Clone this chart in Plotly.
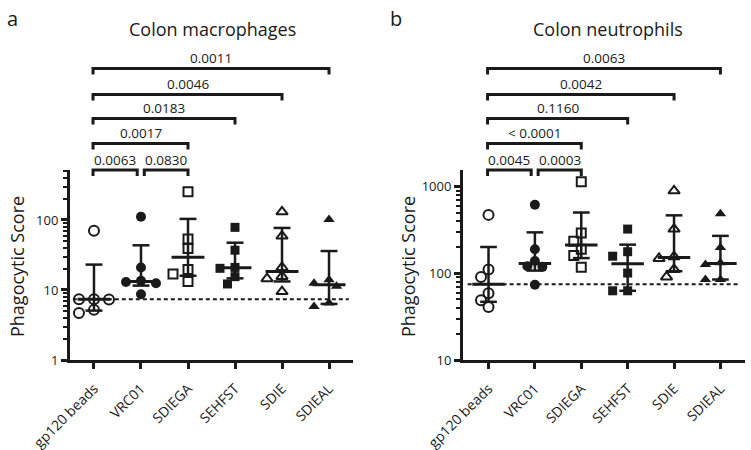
import math
import plotly.graph_objects as go

# ---------------- data ----------------
categories = ["gp120 beads", "VRC01", "SDIEGA", "SEHFST", "SDIE", "SDIEAL"]
symbols = ["circle-open", "circle", "square-open", "square", "triangle-up-open", "triangle-up"]

mac_gp120 = [70, 7.4, 7.4, 7.3, 5.2, 4.7]
mac_vrc01 = [111, 21, 13.5, 13.0, 12.5, 8.7]
mac_sdiega = [254, 53.5, 39, 19.7, 16.9, 13.2]
mac_sehfst = [78.5, 37, 21, 20.4, 15.5, 12.2]
mac_sdie = [131, 59, 21, 15.6, 14.5, 9.5]
mac_sdieal = [102, 14, 12.5, 11.3, 6.5, 5.8]

neu_gp120 = [474, 111, 91, 59, 49, 41]
neu_vrc01 = [621, 190, 139, 121, 119, 74]
neu_sdiega = [1143, 292, 235, 190, 161, 118]
neu_sehfst = [325, 178, 158, 101, 63, 63]
neu_sdie = [898, 325, 156, 149, 111, 91]
neu_sdieal = [488, 199, 133, 127, 85, 85]

pairs = [(0, 1), (1, 2), (0, 2), (0, 3), (0, 4), (0, 5)]
mac_p = ["0.0063", "0.0830", "0.0017", "0.0183", "0.0046", "0.0011"]
neu_p = ["0.0045", "0.0003", "< 0.0001", "0.1160", "0.0042", "0.0063"]

mac_ticks = [1, 10, 100]
neu_ticks = [10, 100, 1000]

# ---------------- layout constants ----------------
W, H = 751, 450
INK = "#1a1a1a"
FONT = "Open Sans"

panels = [
    dict(groups=[mac_gp120, mac_vrc01, mac_sdiega, mac_sehfst, mac_sdie, mac_sdieal],
         pvals=mac_p, ticks=mac_ticks, px=(70, 353), yr=(0, 2.714), xr=(-0.51, 5.51),
         title="Colon macrophages", tx=212, letter="a", lx=12, ytx=17),
    dict(groups=[neu_gp120, neu_vrc01, neu_sdiega, neu_sehfst, neu_sdie, neu_sdieal],
         pvals=neu_p, ticks=neu_ticks, px=(463, 745), yr=(1, 3.194), xr=(-0.55, 5.53),
         title="Colon neutrophils", tx=608, letter="b", lx=396, ytx=408),
]
PY_TOP, PY_BOT = 170, 360


def quant(vals, p):
    s = sorted(vals)
    n = len(s)
    pos = p * (n + 1)
    lo = int(math.floor(pos))
    frac = pos - lo
    lo = max(1, min(n, lo))
    hi = max(1, min(n, lo + 1))
    return s[lo - 1] + frac * (s[hi - 1] - s[lo - 1])


def swarm(vals, ppx, ppd, step=7.5, thr=9.0):
    order = sorted(range(len(vals)), key=lambda i: -vals[i])
    placed = []
    offs = [0.0] * len(vals)
    for i in order:
        y = math.log10(vals[i]) * ppd
        for k in [0, -1, 1, -2, 2, -3, 3]:
            x = k * step
            if all(math.hypot(x - px, y - py) >= thr - 1e-6 for px, py in placed):
                break
        placed.append((x, y))
        offs[i] = x / ppx
    return offs


fig = go.Figure()
annotations = []
shapes = []

for pi, P in enumerate(panels):
    xa = "x" if pi == 0 else "x2"
    ya = "y" if pi == 0 else "y2"
    wpx = P["px"][1] - P["px"][0]
    ppx = wpx / (P["xr"][1] - P["xr"][0])
    ppd = (PY_BOT - PY_TOP) / (P["yr"][1] - P["yr"][0])

    # error bars (median + interquartile range)
    lx, ly = [], []
    mx, my = [], []
    for gi, vals in enumerate(P["groups"]):
        q1, med, q3 = quant(vals, 0.25), quant(vals, 0.5), quant(vals, 0.75)
        cw = 0.18
        mw = 0.35
        lx += [gi, gi, None, gi - cw, gi + cw, None, gi - cw, gi + cw, None]
        ly += [q1, q3, None, q3, q3, None, q1, q1, None]
        mx += [gi - mw, gi + mw, None]
        my += [med, med, None]
    fig.add_trace(go.Scatter(x=lx, y=ly, mode="lines", xaxis=xa, yaxis=ya,
                             line=dict(color=INK, width=2.5), hoverinfo="skip", showlegend=False))
    fig.add_trace(go.Scatter(x=mx, y=my, mode="lines", xaxis=xa, yaxis=ya,
                             line=dict(color=INK, width=3), hoverinfo="skip", showlegend=False))

    # dashed reference line at gp120 median
    ref = quant(P["groups"][0], 0.5)
    fig.add_trace(go.Scatter(x=[-0.45, 5.42], y=[ref, ref], mode="lines", xaxis=xa, yaxis=ya,
                             line=dict(color=INK, width=2, dash="4px,3px"),
                             hoverinfo="skip", showlegend=False))

    # points
    for gi, vals in enumerate(P["groups"]):
        offs = swarm(vals, ppx, ppd)
        sym = symbols[gi]
        is_open = sym.endswith("open")
        size = 10 if "circle" in sym else (9 if "square" in sym else 10)
        fig.add_trace(go.Scatter(
            x=[gi + o for o in offs], y=vals, mode="markers", xaxis=xa, yaxis=ya,
            marker=dict(symbol=sym, size=size, color=INK,
                        line=dict(color=INK, width=2 if is_open else 0)),
            showlegend=False, name=categories[gi]))

    # brackets
    levels_px = [170, 170, 143.5, 118.5, 94.5, 68.5]
    for k, ((a, b), lab) in enumerate(zip(pairs, P["pvals"])):
        x0, x1 = a - 0.02, b
        if k == 0:
            x1 = b - 0.08
        elif k == 1:
            x0 = a + 0.07
        yb = (H - levels_px[k]) / H
        yt = (H - (levels_px[k] + 6)) / H
        shapes.append(dict(type="path", xref=xa, yref="paper",
                           path=f"M {x0} {yt} L {x0} {yb} L {x1} {yb} L {x1} {yt}",
                           line=dict(color=INK, width=3)))
        annotations.append(dict(x=(x0 + x1) / 2, xref=xa, y=(H - (levels_px[k] - 10.5)) / H,
                                yref="paper", text=lab, showarrow=False,
                                xanchor="center", yanchor="middle",
                                font=dict(family=FONT, size=13.5, color=INK)))

    # titles and labels
    annotations.append(dict(x=P["tx"] / W, y=(H - 29) / H, xref="paper", yref="paper",
                            text=P["title"], showarrow=False, xanchor="center", yanchor="middle",
                            font=dict(family=FONT, size=18, color=INK)))
    annotations.append(dict(x=P["lx"] / W, y=(H - 18) / H, xref="paper", yref="paper",
                            text=P["letter"], showarrow=False, xanchor="center", yanchor="middle",
                            font=dict(family=FONT, size=20, color=INK)))
    annotations.append(dict(x=P["ytx"] / W, y=(H - 267) / H, xref="paper", yref="paper",
                            text="Phagocytic Score", showarrow=False, textangle=-90,
                            xanchor="center", yanchor="middle",
                            font=dict(family=FONT, size=18, color=INK)))

    # axes
    lo, hi = P["yr"]
    minors = [k * 10 ** d for d in range(int(math.floor(lo)), int(math.ceil(hi)) + 1)
              for k in range(2, 10) if lo <= math.log10(k * 10 ** d) <= hi]
    dom_x = [P["px"][0] / W, P["px"][1] / W]
    dom_y = [(H - PY_BOT) / H, (H - PY_TOP) / H]
    xkey = "xaxis" if pi == 0 else "xaxis2"
    ykey = "yaxis" if pi == 0 else "yaxis2"
    fig.update_layout(**{
        xkey: dict(domain=dom_x, range=list(P["xr"]), anchor=ya, automargin=False,
                   tickmode="array", tickvals=list(range(len(categories))), ticktext=categories,
                   tickangle=-45, showline=True, linecolor=INK, linewidth=3,
                   ticks="outside", ticklen=6, tickwidth=3, tickcolor=INK,
                   ticklabelstandoff=6,
                   showgrid=False, zeroline=False,
                   tickfont=dict(family=FONT, size=14, color=INK)),
        ykey: dict(domain=dom_y, type="log", range=[lo, hi], anchor=xa, automargin=False,
                   tickmode="array", tickvals=P["ticks"], ticktext=[str(t) for t in P["ticks"]],
                   showline=True, linecolor=INK, linewidth=3,
                   ticks="outside", ticklen=6, tickwidth=3, tickcolor=INK,
                   minor=dict(tickmode="array", tickvals=minors, ticks="outside",
                              ticklen=4, tickwidth=2, tickcolor=INK, showgrid=False),
                   showgrid=False, zeroline=False,
                   tickfont=dict(family=FONT, size=13, color=INK)),
    })

fig.update_layout(template="none", width=W, height=H,
                  margin=dict(l=0, r=0, t=0, b=0, autoexpand=False),
                  font=dict(family=FONT, color=INK),
                  paper_bgcolor="white", plot_bgcolor="white",
                  annotations=annotations, shapes=shapes, showlegend=False)

fig.write_html("out.html", config={"displayModeBar": False},
               post_script="document.body.style.margin='0';document.body.style.overflow='hidden';")
